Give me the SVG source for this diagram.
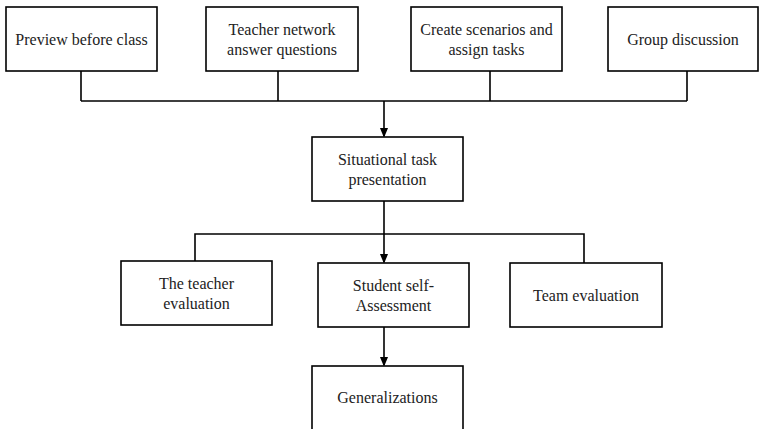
<svg xmlns="http://www.w3.org/2000/svg" width="759" height="429" viewBox="0 0 759 429">
<style>
.box{fill:#fff;stroke:#000;stroke-width:1.6}
.ln{fill:none;stroke:#000;stroke-width:1.6}
text{font-family:"Liberation Serif","Times New Roman",serif;font-size:16px;fill:#222;text-anchor:middle}
</style>
<defs>
<marker id="ah" markerUnits="userSpaceOnUse" markerWidth="10" markerHeight="13" refX="10" refY="5" orient="auto" viewBox="0 0 12 10">
<path d="M0,0 L12,5 L0,10 Z" fill="#000"/>
</marker>
</defs>
<rect width="759" height="429" fill="#fff"/>
<g id="connectors">
<path class="ln" d="M81,71 V101 M278,71 V101 M490,71 V101 M687,71 V101 M81,101 H687"/>
<path class="ln" d="M384,101 V136" marker-end="url(#ah)"/>
<path class="ln" d="M384,201 V262" marker-end="url(#ah)"/>
<path class="ln" d="M195,261 V234 H584 V263"/>
<path class="ln" d="M384,327 V365" marker-end="url(#ah)"/>
</g>
<g id="n1"><rect class="box" x="6" y="7" width="151" height="64"/><text x="81.5" y="45">Preview before class</text></g>
<g id="n2"><rect class="box" x="206" y="7" width="152" height="64"/><text x="282" y="35">Teacher network</text><text x="282" y="55">answer questions</text></g>
<g id="n3"><rect class="box" x="411" y="7" width="151" height="64"/><text x="486.5" y="35">Create scenarios and</text><text x="486.5" y="55">assign tasks</text></g>
<g id="n4"><rect class="box" x="608" y="7" width="150" height="64"/><text x="683" y="45">Group discussion</text></g>
<g id="n5"><rect class="box" x="312" y="137" width="151" height="64"/><text x="387.5" y="165">Situational task</text><text x="387.5" y="185">presentation</text></g>
<g id="n6"><rect class="box" x="121" y="261" width="151" height="64"/><text x="196.5" y="289">The teacher</text><text x="196.5" y="309">evaluation</text></g>
<g id="n7"><rect class="box" x="318" y="263" width="151" height="64"/><text x="393.5" y="291">Student self-</text><text x="393.5" y="311">Assessment</text></g>
<g id="n8"><rect class="box" x="510" y="263" width="152" height="64"/><text x="586" y="301">Team evaluation</text></g>
<g id="n9"><rect class="box" x="312" y="366" width="151" height="70"/><text x="387.5" y="403">Generalizations</text></g>
</svg>
